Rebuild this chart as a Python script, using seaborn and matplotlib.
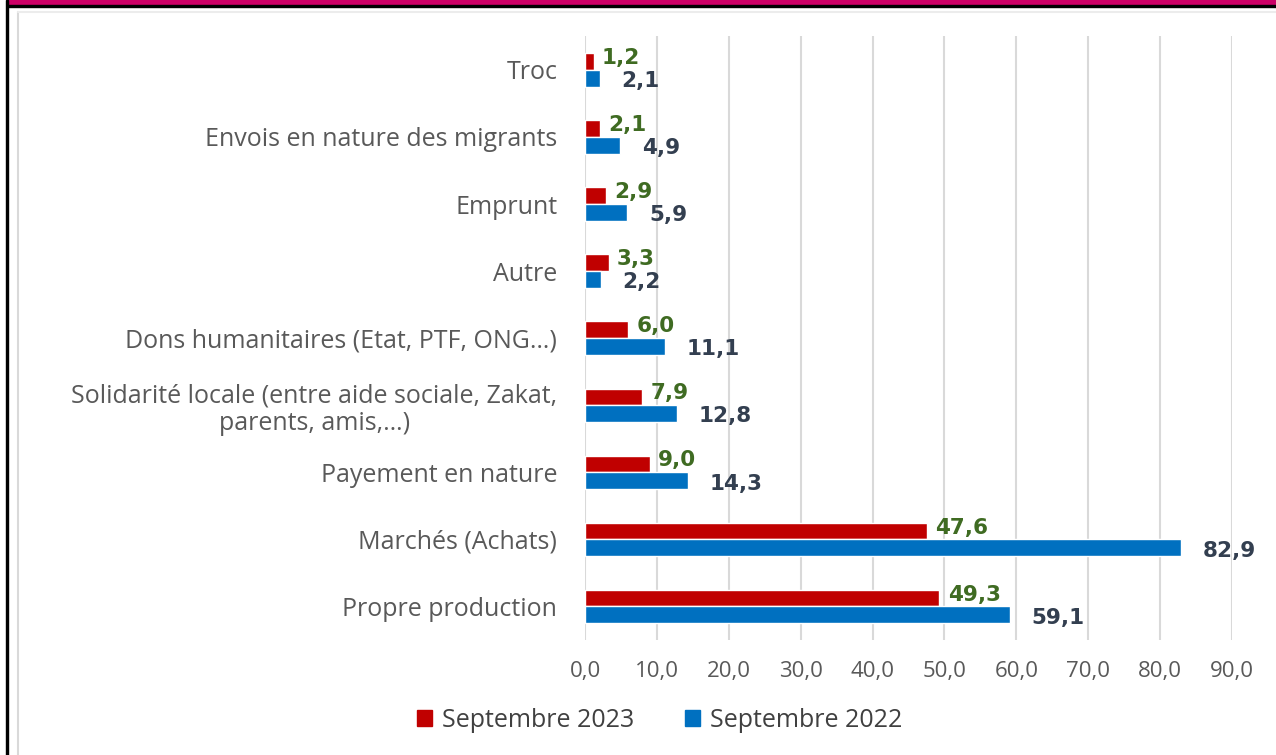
import numpy as np
import pandas as pd
import matplotlib
matplotlib.use("Agg")
import matplotlib.pyplot as plt
from matplotlib.patches import Rectangle
from matplotlib.lines import Line2D
from matplotlib.ticker import FuncFormatter, MultipleLocator
import seaborn as sns

categories = [
    "Troc",
    "Envois en nature des migrants",
    "Emprunt",
    "Autre",
    "Dons humanitaires (Etat, PTF, ONG…)",
    "Solidarité locale (entre aide sociale, Zakat,\nparents, amis,…)",
    "Payement en nature",
    "Marchés (Achats)",
    "Propre production",
]
sept_2023 = [1.2, 2.1, 2.9, 3.3, 6.0, 7.9, 9.0, 47.6, 49.3]
sept_2022 = [2.1, 4.9, 5.9, 2.2, 11.1, 12.8, 14.3, 82.9, 59.1]
periods = ["Septembre 2023", "Septembre 2022"]

RED = "#c00000"
BLUE = "#0070c0"
GREEN_TXT = "#3f6b22"
NAVY_TXT = "#333f50"
GRAY_TXT = "#595959"

df = pd.DataFrame({
    "cat": categories * 2,
    "val": sept_2023 + sept_2022,
    "period": [periods[0]] * len(categories) + [periods[1]] * len(categories),
})

sns.set_theme(style="white")
plt.rcParams["font.family"] = ["Open Sans", "DejaVu Sans"]

fig = plt.figure(figsize=(12.76, 7.55), dpi=100)
ax = fig.add_axes([0.4585, 0.1523, 0.507, 0.7995])

sns.barplot(data=df, y="cat", x="val", hue="period", hue_order=periods,
            palette=[RED, BLUE], width=0.5, orient="h", ax=ax,
            saturation=1, legend=False)

ax.set_xlim(0, 90)
ax.xaxis.set_major_locator(MultipleLocator(10))
ax.xaxis.set_major_formatter(FuncFormatter(lambda v, p: f"{v:.1f}".replace(".", ",")))
ax.grid(axis="x", color="#d9d9d9", linewidth=1.5)
ax.set_axisbelow(True)
for s in ax.spines.values():
    s.set_visible(False)
ax.set_xlabel("")
ax.set_ylabel("")
ax.tick_params(axis="x", length=0, pad=15, labelsize=16, labelcolor=GRAY_TXT)
ax.tick_params(axis="y", length=0, pad=20, labelsize=18, labelcolor=GRAY_TXT)
for t in ax.get_yticklabels():
    t.set_multialignment("center")
    t.set_linespacing(1.15)

# value labels
for bar in ax.containers[0]:
    w = bar.get_width()
    yc = bar.get_y() + bar.get_height() / 2
    ax.annotate(f"{w:.1f}".replace(".", ","), (w, yc), xytext=(6, 2.5),
                textcoords="offset points", ha="left", va="center",
                fontsize=15.5, fontweight="bold", color=GREEN_TXT,
                family="DejaVu Sans")
for bar in ax.containers[1]:
    w = bar.get_width()
    yc = bar.get_y() + bar.get_height() / 2
    ax.annotate(f"{w:.1f}".replace(".", ","), (w, yc), xytext=(15.5, -2),
                textcoords="offset points", ha="left", va="center",
                fontsize=15.5, fontweight="bold", color=NAVY_TXT,
                family="DejaVu Sans")

handles = [Rectangle((0, 0), 1, 1, color=RED), Rectangle((0, 0), 1, 1, color=BLUE)]
fig.legend(handles, periods, loc="center", bbox_to_anchor=(0.517, 0.046), ncol=2,
           frameon=False, fontsize=18, handlelength=0.6, handleheight=0.6,
           handletextpad=0.4, columnspacing=2.0, labelcolor="#404040")

# page decorations
fig.patches.append(Rectangle((0.0063, 0.9934), 1, 0.0066, transform=fig.transFigure,
                             color="#cc0066", zorder=5))
fig.patches.append(Rectangle((0.0063, 0.9907), 1, 0.0027, transform=fig.transFigure,
                             color="black", zorder=5))
fig.patches.append(Rectangle((0.0047, 0), 0.0016, 1, transform=fig.transFigure,
                             color="black", zorder=5))
fig.lines.append(Line2D([0.0141, 0.0141], [0, 0.984], transform=fig.transFigure,
                        color="#d9d9d9", linewidth=1.5))
fig.lines.append(Line2D([0.0141, 1], [0.984, 0.984], transform=fig.transFigure,
                        color="#ececec", linewidth=1.5))

fig.savefig("out.png", dpi=100)
